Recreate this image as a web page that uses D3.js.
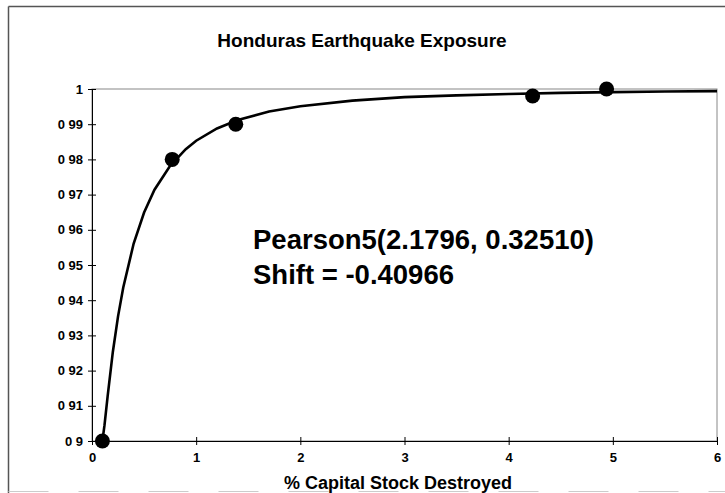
<!doctype html>
<html lang="en">
  <head>
    <meta charset="utf-8">
    <title>Honduras Earthquake Exposure</title>
    <script src="https://d3js.org/d3.v7.min.js"></script>
    <style>
      body { margin: 0; background: #fff; }
      svg { display: block; }
      text { font-family: "Liberation Sans", Arial, sans-serif; font-weight: bold; fill: #000; }
    </style>
  </head>
  <body>
    <div id="chart"></div>
    <script>

      // fitted points
      const pointX = [0.1, 0.77, 1.38, 4.23, 4.94];
      const pointY = [0.9, 0.98, 0.99, 0.998, 1.0];

      // fitted Pearson5 CDF curve
      const curveX = [0.1, 0.12, 0.15, 0.2, 0.25, 0.3, 0.4, 0.5, 0.6, 0.75, 0.9, 1.0, 1.2, 1.4, 1.7, 2.0, 2.5, 3.0, 3.5, 4.0, 4.5, 5.0, 5.5, 6.0];
      const curveY = [0.9, 0.9045, 0.9127, 0.9253, 0.9354, 0.9436, 0.9561, 0.9649, 0.9714, 0.9782, 0.9829, 0.9853, 0.9888, 0.9912, 0.9936, 0.9951, 0.9967, 0.9977, 0.9982, 0.9986, 0.9989, 0.9991, 0.9993, 0.9994];

      // axis ticks as they appear in the picture
      const xTicks = [0, 1, 2, 3, 4, 5, 6];
      const yTicks = [0.9, 0.91, 0.92, 0.93, 0.94, 0.95, 0.96, 0.97, 0.98, 0.99, 1];
      const yTickLabels = ["0 9", "0 91", "0 92", "0 93", "0 94", "0 95", "0 96", "0 97", "0 98", "0 99", "1"];

      const W = 725, H = 493;
      const margin = {top: 89, right: 8, bottom: 52, left: 92},
          width = W - margin.left - margin.right,
          height = H - margin.top - margin.bottom;

      const svg = d3.select("#chart")
        .append("svg")
          .attr("width", W)
          .attr("height", H);

      // chart area border: left and top dark, bottom faint, right edge off the picture
      svg.append("line")
          .attr("x1", 8.5).attr("y1", 6.5).attr("x2", W).attr("y2", 6.5)
          .attr("stroke", "#555").attr("stroke-width", 1.5);
      svg.append("line")
          .attr("x1", 8.5).attr("y1", 6.5).attr("x2", 8.5).attr("y2", H)
          .attr("stroke", "#555").attr("stroke-width", 1.5);
      svg.append("line")
          .attr("x1", 8.5).attr("y1", H - 1.5).attr("x2", W).attr("y2", H - 1.5)
          .attr("stroke", "#ccc").attr("stroke-width", 1)
          .attr("stroke-dasharray", "40,30");

      const g = svg.append("g")
          .attr("transform", `translate(${margin.left},${margin.top})`);

      const x = d3.scaleLinear()
        .domain([0, 6])
        .range([0, width]);

      const y = d3.scaleLinear()
        .domain([0.9, 1])
        .range([height, 0]);

      // plot area border
      g.append("rect")
          .attr("x", 0)
          .attr("y", 0)
          .attr("width", width)
          .attr("height", height)
          .attr("fill", "none")
          .attr("stroke", "#888")
          .attr("stroke-width", 1);

      // X axis
      const xAxis = g.append("g")
        .attr("transform", `translate(0, ${height})`)
        .call(d3.axisBottom(x).tickValues(xTicks).tickFormat(d3.format("d")).tickSize(4).tickSizeOuter(0).tickPadding(8));
      xAxis.selectAll(".tick line").attr("y1", -4);
      xAxis.selectAll("text").style("font-size", "13px");

      // Y axis
      const yAxis = g.append("g")
        .call(d3.axisLeft(y).tickValues(yTicks).tickFormat((d, i) => yTickLabels[i]).tickSize(4).tickSizeOuter(0).tickPadding(5));
      yAxis.selectAll(".tick line").attr("x1", 4);
      yAxis.selectAll("text").style("font-size", "13px");
      g.selectAll(".domain").attr("stroke", "#000");

      // curve
      const line = d3.line()
        .x((d, i) => x(curveX[i]))
        .y(d => y(d));
      g.append("path")
          .datum(curveY)
          .attr("d", line)
          .attr("fill", "none")
          .attr("stroke", "#000")
          .attr("stroke-width", 2.6);

      // points
      g.selectAll("circle")
        .data(pointY)
        .enter()
        .append("circle")
          .attr("cx", (d, i) => x(pointX[i]))
          .attr("cy", d => y(d))
          .attr("r", 7.5)
          .attr("fill", "#000");

      // title
      svg.append("text")
          .attr("x", 362)
          .attr("y", 47)
          .attr("text-anchor", "middle")
          .style("font-size", "19px")
          .text("Honduras Earthquake Exposure");

      // x axis title
      svg.append("text")
          .attr("x", 398)
          .attr("y", 489)
          .attr("text-anchor", "middle")
          .style("font-size", "18px")
          .text("% Capital Stock Destroyed");

      // fit annotation
      svg.append("text")
          .attr("x", 253)
          .attr("y", 249)
          .style("font-size", "27.5px")
          .text("Pearson5(2.1796, 0.32510)");
      svg.append("text")
          .attr("x", 253)
          .attr("y", 284)
          .style("font-size", "27.5px")
          .text("Shift = -0.40966");

    </script>
  </body>
</html>
